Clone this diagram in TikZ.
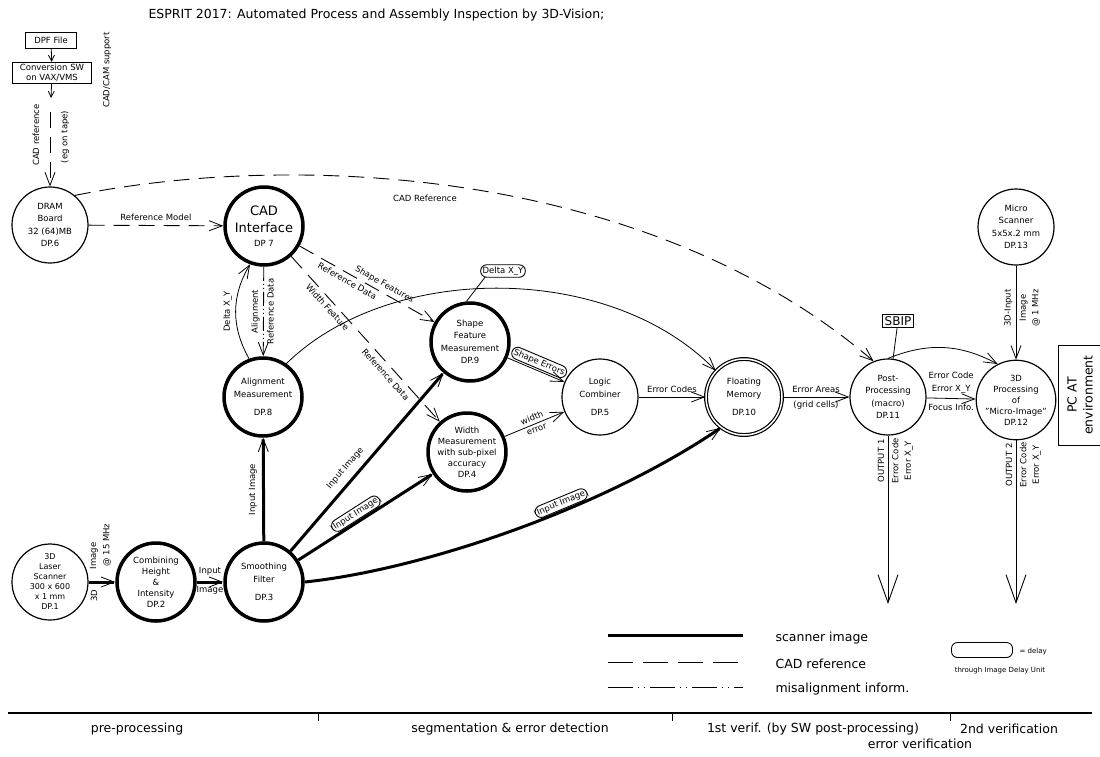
\documentclass[tikz,border=0pt]{standalone}
\usepackage{fontspec}
\setmainfont{DejaVu Sans}
\usetikzlibrary{arrows.meta}

\begin{document}
\begin{tikzpicture}[x=1pt,y=-1pt,
    every node/.style={font=\fontsize{8.5}{12.5}\selectfont},
    ext/.style={circle,draw,line width=1.2pt,minimum size=76pt,inner sep=0pt,align=center,font=\fontsize{8.5}{12.5}\selectfont},
    proc/.style={ext,line width=3.5pt,minimum size=78pt},
    delaybox/.style={draw,rounded corners=6pt,line width=0.9pt,inner sep=2pt,outer sep=2pt},
    vhead/.style={-{Straight Barb[length=13pt,width=10pt,line width=0.8pt]}},
    flow/.style={line width=0.8pt,vhead},
    scan/.style={line width=3pt,vhead},
    cadref/.style={line width=0.9pt,dash pattern=on 16pt off 9pt,vhead},
    misal/.style={line width=0.9pt,dash pattern=on 14pt off 3pt on 1pt off 3pt on 1pt off 3pt,vhead},
    bigflow/.style={line width=0.9pt,-{Straight Barb[length=28pt,width=20pt,line width=0.9pt]}}]
  \useasboundingbox (0,0) rectangle (1100,756);
  \node[anchor=west,font=\fontsize{12.5}{14}\selectfont] at (145,15) (title) {ESPRIT 2017: Automated Process and Assembly Inspection by 3D-Vision;};

  \node[draw,line width=0.9pt,minimum width=51pt,minimum height=16pt,inner sep=1pt] at (51,40) (dpf) {DPF File};
  \node[draw,line width=0.9pt,minimum width=79pt,align=center,inner sep=2pt,font=\fontsize{8.5}{10}\selectfont] at (52,73) (conv) {Conversion SW\\on VAX/VMS};
  \coordinate (convout) at (51,98);
  \coordinate (tape) at (50,112);
  \node[rotate=90] at (36,135) (cadtxt) {CAD reference};
  \node[rotate=90] at (65,137) (tapetxt) {(eg on tape)};
  \node[rotate=90] at (107,70) (cadcam) {CAD/CAM support};

  \node[ext] at (50,225) (dram) {DRAM\\Board\\32 (64)MB\\DP.6};
  \node[proc,font=\fontsize{13}{17}\selectfont] at (264,226) (cad) {CAD\\Interface\\[-3pt]{\fontsize{8.5}{10}\selectfont DP 7}};
  \node[proc] at (263,397) (align) {Alignment\\Measurement\\[6pt]DP.8};
  \node[proc] at (470,342) (shape) {Shape\\Feature\\Measurement\\DP.9};
  \node[proc,font=\fontsize{8.5}{11}\selectfont] at (467,452) (width) {Width\\Measurement\\with sub-pixel\\accuracy\\DP.4};
  \node[ext] at (600,397) (logic) {Logic\\Combiner\\[6pt]DP.5};
  \node[ext,double,double distance=1.5pt] at (744,397) (float) {Floating\\Memory\\[6pt]DP.10};
  \node[ext] at (888,397) (post) {Post-\\Processing\\(macro)\\DP.11};
  \node[ext,font=\fontsize{8.5}{11}\selectfont] at (1016,400) (proc3d) {3D\\Processing\\of\\"Micro-Image"\\DP.12};
  \node[ext] at (1016,227) (micro) {Micro\\Scanner\\5x5x.2 mm\\DP.13};
  \node[ext,font=\fontsize{8}{10}\selectfont] at (50,582) (laser) {3D\\Laser\\Scanner\\300 x 600\\x 1 mm\\DP.1};
  \node[proc,font=\fontsize{8.5}{11}\selectfont] at (156,582) (comb) {Combining\\Height\\\&\\Intensity\\DP.2};
  \node[proc] at (264,582) (smooth) {Smoothing\\Filter\\[6pt]DP.3};
  \node[delaybox,outer sep=0pt] at (503,271) (dxy) {Delta X\_Y};
  \node[draw,line width=0.8pt,font=\fontsize{12}{14}\selectfont,inner sep=2pt] at (898,321) (sbip) {SBIP};
  \node[draw,line width=0.9pt,rotate=90,align=center,minimum width=100pt,minimum height=44pt,font=\fontsize{12.5}{16}\selectfont] at (1080,395) (pcat) {PC AT\\environment};

  \path[flow,-{Straight Barb[length=6pt,width=6pt,line width=0.8pt]}] (dpf) edge (conv) (conv) edge (convout);
  \path[cadref] (tape) edge (dram);
  \path[cadref] (dram) edge node[above,inner sep=4pt]{Reference Model} (cad);
  \draw[cadref] (dram.50) .. controls (300,150) and (650,170) .. (post.112);
  \node at (425,198) (cadrefcurve) {CAD Reference};
  \path[misal] (cad) edge node[rotate=90,above]{Alignment} node[rotate=90,below]{Reference Data} (align);
  \draw[flow] (align.110) to[bend left=30] node[rotate=90,above]{Delta X\_Y} (cad.250);
  \path[cadref] (cad) edge node[sloped,above,pos=0.6]{Shape Features} node[sloped,below,pos=0.38]{Reference Data} (shape);
  \path[cadref] (cad) edge node[sloped,below,pos=0.28]{Width Feature} node[sloped,below,pos=0.68,inner sep=5pt]{Reference Data} (width);
  \draw[flow] (align.55) .. controls (390,262) and (610,262) .. (float.137);
  \draw[line width=0.8pt] ([xshift=-18pt]dxy.south) -- (shape.95);
  \path[flow] (shape) edge node[delaybox,sloped,above]{Shape Errors} (logic);
  \path[flow] (logic) edge node[above,inner sep=4pt]{Error Codes} (float);
  \path[flow] (width) edge node[sloped,above]{width} node[sloped,below]{error} (logic);

  \path[scan] (laser) edge (comb);
  \node[rotate=90] at (94,556) (imgtxt) {Image};
  \node[rotate=90] at (107,545) (mhztxt) {@ 15 MHz};
  \node[rotate=90] at (94,596) (dtxt) {3D};
  \path[scan] (comb) edge node[above,inner sep=5pt]{Input} node[below,inner sep=3pt]{Image} (smooth);
  \path[scan] (smooth) edge node[rotate=90,above,inner sep=5pt]{Input Image} (align);
  \path[scan] (smooth) edge node[sloped,above,pos=0.42,inner sep=7pt]{Input Image} (shape);
  \path[scan] (smooth) edge node[delaybox,sloped,above,pos=0.46]{Input Image} (width);
  \draw[scan] (smooth.east) .. controls (420,570) and (600,510) .. (float.233) node[delaybox,sloped,above,pos=0.62]{Input Image};

  \path[flow] (float) edge node[above,inner sep=4pt]{Error Areas} node[below,inner sep=4pt]{(grid cells)} (post);
  \path[line width=0.8pt] (sbip) edge (post);
  \draw[flow] (post.90) to[bend left=25] (proc3d.117);
  \path[flow] (post) edge node[above,align=center,inner sep=5pt]{Error Code\\Error X\_Y} node[below,inner sep=5pt]{Focus Info.} (proc3d);
  \path[flow] (micro) edge node[rotate=90,above,pos=0.45]{3D-Input} node[rotate=90,below,align=center,pos=0.45]{Image\\@ 1 MHz} (proc3d);

  \coordinate (out1) at (888,604);
  \coordinate (out2) at (1016,604);
  \path[bigflow] (post) edge node[rotate=90,above,pos=0.15]{OUTPUT 1} node[rotate=90,below,align=center,pos=0.15]{Error Code\\Error X\_Y} (out1);
  \path[bigflow] (proc3d) edge node[rotate=90,above,pos=0.15]{OUTPUT 2} node[rotate=90,below,align=center,pos=0.15]{Error Code\\Error X\_Y} (out2);

  \coordinate (lga) at (608,635);
  \coordinate (lgb) at (743,635);
  \coordinate (lgc) at (608,662);
  \coordinate (lgd) at (738,662);
  \coordinate (lge) at (608,687);
  \coordinate (lgf) at (743,687);
  \draw[line width=3pt] (lga) -- (lgb);
  \draw[line width=0.9pt,dash pattern=on 25pt off 10pt] (lgc) -- (lgd);
  \draw[line width=0.9pt,dash pattern=on 25pt off 5pt on 1pt off 5pt on 1pt off 5pt] (lge) -- (lgf);
  \node[anchor=west,font=\fontsize{12.5}{14}\selectfont] at (772,638) (lgscan) {scanner image};
  \node[anchor=west,font=\fontsize{12.5}{14}\selectfont] at (772,664) (lgcad) {CAD reference};
  \node[anchor=west,font=\fontsize{12.5}{14}\selectfont] at (772,689) (lgmis) {misalignment inform.};
  \node[delaybox,outer sep=0pt,minimum width=61pt,minimum height=15pt] at (982,650) (lgdelay) {};
  \node[anchor=west,font=\fontsize{7}{8}\selectfont] at (1016,652) (lgeq) {= delay};
  \node[font=\fontsize{7}{8}\selectfont] at (1000,671) (lgunit) {through Image Delay Unit};

  \draw[line width=1.2pt] (8,713) -- (1092,713);
  \foreach \tx in {318,672,950} \draw[line width=0.9pt] (\tx,713) -- (\tx,721);
  \node[font=\fontsize{12.5}{14}\selectfont] at (137,729) (ph1) {pre-processing};
  \node[font=\fontsize{12.5}{14}\selectfont] at (510,729) (ph2) {segmentation \& error detection};
  \node[font=\fontsize{12.5}{14}\selectfont] at (813,729) (ph3) {1st verif. (by SW post-processing)};
  \node[font=\fontsize{12.5}{14}\selectfont] at (1009,729) (ph4) {2nd verification};
  \node[font=\fontsize{12.5}{14}\selectfont] at (920,744) (ph5) {error verification};
\end{tikzpicture}
\end{document}
